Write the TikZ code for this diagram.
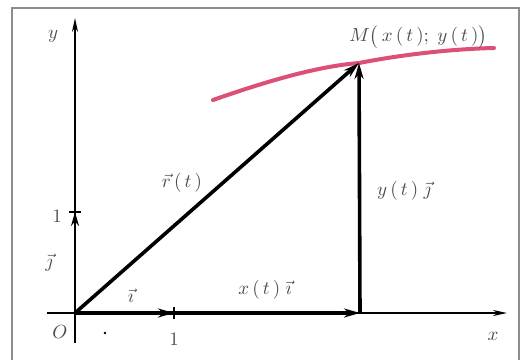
\documentclass[tikz,border=0pt]{standalone}
\usetikzlibrary{arrows.meta}
\begin{document}
\begin{tikzpicture}[x=1pt,y=-1pt,
  axis/.style={line width=2pt,-{Stealth[length=14pt,width=6pt]}},
  vec/.style={line width=3.6pt,-{Stealth[length=16pt,width=9pt]}},
  lbl/.style={transform shape, scale=1.9, text=black!70, inner sep=0pt},
  curvecol/.style={draw={rgb,255:red,220;green,80;blue,120}, line width=4pt, line cap=round}]
\useasboundingbox (0,0) rectangle (521,359);
\fill[white] (0,0) rectangle (521,359);
\draw[black!45, line width=1.5pt] (12,365) -- (12,8) -- (519,8) -- (519,365);
% points
\coordinate (O) at (75,313);
\coordinate (XL) at (47,313);
\coordinate (XE) at (507,313);
\coordinate (YB) at (75,343);
\coordinate (YE) at (75,18);
\coordinate (I) at (174,313);
\coordinate (J) at (75,212);
\coordinate (P) at (360,313);
\coordinate (M) at (359,63);
% curve
\draw[curvecol] (213,100) .. controls (270,80) and (320,66) .. (M) .. controls (400,55) and (450,49) .. (494,48);
% axes
\draw[axis] (XL) -- (XE);
\draw[axis] (YB) -- (YE);
\draw[line width=1.5pt] (174,307) -- (174,319);
\draw[line width=1.5pt] (69,212) -- (81,212);
% vectors
\draw[vec] (O) -- (P);
\draw[vec] (O) -- (I);
\draw[line width=2pt,-{Stealth[length=14pt,width=8pt]}] (O) -- (J);
\draw[vec] (O) -- (M);
\draw[vec] (P) -- (M);
\fill (105,333) circle (1.3pt);
% labels
\node[lbl] (ly) at (53,36) {$y$};
\node[lbl] (lx) at (493,336) {$x$};
\node[lbl] (lO) at (60,332) {$O$};
\node[lbl] (l1x) at (174,339) {$1$};
\node[lbl] (l1y) at (57,216) {$1$};
\node[lbl] (lj) at (49,263) {$\vec{\jmath}$};
\node[lbl] (li) at (131,296) {$\vec{\imath}$};
\node[lbl] (lr) at (182,183) {$\vec{r}\,(\,t\,)$};
\node[lbl] (lyt) at (404,191) {$y\,(\,t\,)\;\vec{\jmath}$};
\node[lbl] (lxt) at (265,290) {$x\,(\,t\,)\;\vec{\imath}$};
\node[lbl, anchor=south west] (lM) at (349,49) {$M\big(\,x\,(\,t\,);\;y\,(\,t\,)\big)$};
\end{tikzpicture}
\end{document}
